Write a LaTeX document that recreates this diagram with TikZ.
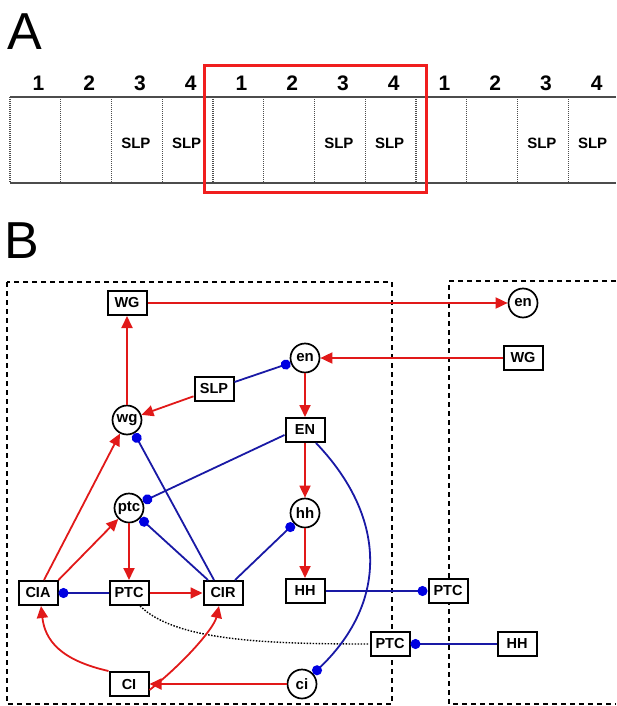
\documentclass[tikz,border=0pt]{standalone}
\usepackage{fontspec}
\setmainfont{Liberation Sans}
\usetikzlibrary{arrows.meta}
\definecolor{myred}{RGB}{225,25,25}
\definecolor{boxred}{RGB}{240,30,30}
\definecolor{myblue}{RGB}{25,25,165}
\definecolor{dotblue}{RGB}{0,0,225}
\begin{document}
\begin{tikzpicture}[x=1pt,y=-1pt,
 box/.style={draw, line width=2pt, minimum width=39pt, minimum height=24pt, inner sep=0pt, font=\fontsize{14.5}{16}\selectfont\bfseries, fill=white},
 circ/.style={draw, circle, line width=1.7pt, minimum size=29pt, inner sep=0pt, font=\fontsize{15}{16}\selectfont\bfseries, fill=white},
 act/.style={draw=myred, line width=1.8pt, -{Triangle[length=12pt,width=11pt,color=myred]}},
 inh/.style={draw=myblue, line width=1.8pt, -{Circle[length=10pt,color=dotblue]}},
 region/.style={draw=black, line width=1.8pt, dash pattern=on 5pt off 4pt},
 celldiv/.style={draw=black!70, line width=1.3pt, dash pattern=on 1pt off 1pt},
 stripline/.style={draw=black!70, line width=1.7pt},
 numlab/.style={font=\fontsize{21}{22}\selectfont\bfseries, inner sep=0pt, anchor=base},
 sliplab/.style={font=\fontsize{15}{16}\selectfont\bfseries, inner sep=0pt}
]
\useasboundingbox (0,0) rectangle (616,706);

% ---------- Panel A ----------
\node[font=\fontsize{52}{52}\selectfont, anchor=base west, inner sep=0pt] (labA) at (7,50) {A};
\draw[stripline] (10,97) -- (616,97);
\draw[stripline] (10,183) -- (616,183);
\foreach \i in {0,...,11} {
  \pgfmathsetmacro\xx{10+50.75*\i}
  \draw[celldiv] (\xx,97) -- (\xx,183);
}
\foreach \i/\t in {0/1,1/2,2/3,3/4,4/1,5/2,6/3,7/4,8/1,9/2,10/3,11/4} {
  \pgfmathsetmacro\xx{10+50.75*(\i+0.5)+3}
  \node[numlab] (num\i) at (\xx,91) {\t};
}
\foreach \i in {2,3,6,7,10,11} {
  \pgfmathsetmacro\xx{10+50.75*(\i+0.5)-1}
  \node[sliplab] (slp\i) at (\xx,143) {SLP};
}
\draw[draw=boxred, line width=3pt] (204,66) rectangle (426,192);

% ---------- Panel B ----------
\node[font=\fontsize{52}{52}\selectfont, anchor=base west, inner sep=0pt] (labB) at (4,258) {B};
\draw[region] (7,282) rectangle (392,704);
\draw[region] (616,281) -- (449,281) -- (449,704) -- (616,704);

\node[box]  (WGa)  at (127,303) {WG};
\node[circ] (enA)  at (523,303) {en};
\node[circ] (enB)  at (305,358) {en};
\node[box]  (WGb)  at (523,358) {WG};
\node[box]  (SLP)  at (214,389) {SLP};
\node[circ] (wg)   at (127,420) {wg};
\node[box]  (EN)   at (305,430) {EN};
\node[circ] (ptc)  at (129,508) {ptc};
\node[circ] (hh)   at (305,513) {hh};
\node[box]  (CIA)  at (38,593) {CIA};
\node[box]  (PTC)  at (129,593) {PTC};
\node[box]  (CIR)  at (223,593) {CIR};
\node[box]  (HH)   at (305,591) {HH};
\node[box]  (PTCa) at (448,591) {PTC};
\node[box]  (PTCb) at (390,644) {PTC};
\node[box]  (HHb)  at (517,644) {HH};
\node[box]  (CI)   at (129,684) {CI};
\node[circ] (ci)   at (302,684) {ci};

% dotted link
\draw[black, line width=1.4pt, dash pattern=on 1.5pt off 1.5pt]
  ([xshift=11pt]PTC.south) .. controls (175,640) and (260,644) .. (PTCb.west);

% activations
\draw[act] (wg) -- (WGa);
\draw[act] (WGa) -- (enA);
\draw[act] (WGb) -- (enB);
\draw[act] (SLP) -- (wg);
\draw[act] (enB) -- (EN);
\draw[act] (EN) -- (hh);
\draw[act] (hh) -- (HH);
\draw[act] ([xshift=6pt]CIA.north) -- (wg);
\draw[act] (CIA.north east) -- (ptc);
\draw[act] (ptc) -- (PTC);
\draw[act] (PTC) -- (CIR);
\draw[act] (ci) -- (CI);
\draw[act] (CI.north west) .. controls (60,660) and (45,640) .. ([xshift=3pt]CIA.south);
\draw[act] ([yshift=-6pt]CI.east) .. controls (185,662) and (214,628) .. ([xshift=-4pt]CIR.south);

% inhibitions
\draw[inh] (SLP) -- (enB);
\draw[inh] ([xshift=-9pt]CIR.north) -- (wg);
\draw[inh] ([xshift=-15pt]CIR.north) -- (ptc);
\draw[inh] ([xshift=12pt]CIR.north) -- (hh);
\draw[inh] ([yshift=-5pt]EN.west) -- (ptc);
\draw[inh] (PTC) -- (CIA);
\draw[inh] (HH) -- (PTCa);
\draw[inh] (HHb) -- (PTCb);
\draw[inh] ([xshift=11pt]EN.south) .. controls (385,515) and (390,600) .. (ci.42);
\end{tikzpicture}
\end{document}
